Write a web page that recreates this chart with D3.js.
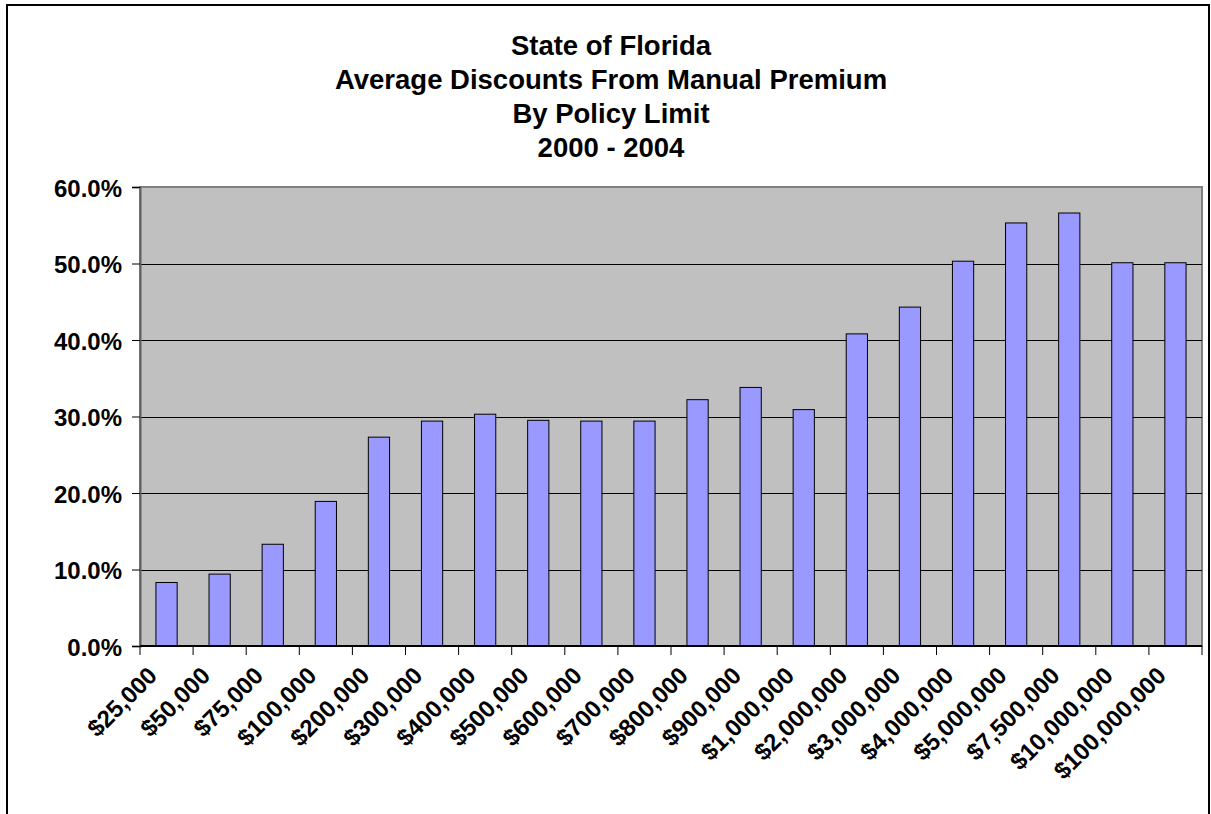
<!DOCTYPE html>
<html>
<head>
<meta charset="utf-8">
<script src="https://cdn.jsdelivr.net/npm/d3@7"></script>
<style>
  html, body { margin: 0; padding: 0; background: #fff; }
  svg { display: block; }
  text { font-family: "Liberation Sans", Arial, sans-serif; font-weight: bold; fill: #000; }
</style>
</head>
<body>
<svg id="chart" width="1211" height="814"></svg>
<script>
// Policy limits (categories) and average discount from manual premium (%)
const limits = ["$25,000", "$50,000", "$75,000", "$100,000", "$200,000", "$300,000",
  "$400,000", "$500,000", "$600,000", "$700,000", "$800,000", "$900,000",
  "$1,000,000", "$2,000,000", "$3,000,000", "$4,000,000", "$5,000,000",
  "$7,500,000", "$10,000,000", "$100,000,000"];
const discounts = [8.3, 9.4, 13.3, 18.9, 27.3, 29.4, 30.3, 29.5, 29.4, 29.4,
  32.2, 33.8, 30.9, 40.8, 44.3, 50.3, 55.3, 56.6, 50.1, 50.1];
const yTicks = [0, 10, 20, 30, 40, 50, 60];
const titleLines = ["State of Florida", "Average Discounts From Manual Premium",
  "By Policy Limit", "2000 - 2004"];

const svg = d3.select("#chart");
const plot = { left: 140, top: 187, right: 1202, bottom: 646 };

// Outer chart frame
svg.append("rect")
  .attr("x", 7).attr("y", 5).attr("width", 1202).attr("height", 830)
  .attr("fill", "#fff").attr("stroke", "#000").attr("stroke-width", 2);

// Title
svg.append("g").selectAll("text").data(titleLines).join("text")
  .attr("x", 611)
  .attr("y", (d, i) => 55 + i * 34)
  .attr("text-anchor", "middle")
  .attr("font-size", 27.5)
  .text(d => d);

const xBand = d3.scaleBand().domain(limits).range([plot.left, plot.right]);
const y = d3.scaleLinear().domain([0, 60]).range([plot.bottom, plot.top]);

// Plot background
svg.append("rect")
  .attr("x", plot.left).attr("y", plot.top)
  .attr("width", plot.right - plot.left).attr("height", plot.bottom - plot.top)
  .attr("fill", "#c0c0c0").attr("stroke", "#808080").attr("stroke-width", 2);

// Gridlines
svg.append("g").selectAll("line").data(yTicks.filter(t => t > 0 && t < 60)).join("line")
  .attr("x1", plot.left).attr("x2", plot.right)
  .attr("y1", d => Math.round(y(d)) + 0.5).attr("y2", d => Math.round(y(d)) + 0.5)
  .attr("stroke", "#000").attr("stroke-width", 1);

// Bars (40% of each category slot, centred)
svg.append("g").selectAll("rect").data(discounts).join("rect")
  .attr("x", (d, i) => xBand(limits[i]) + xBand.bandwidth() * 0.3)
  .attr("width", xBand.bandwidth() * 0.4)
  .attr("y", d => y(d))
  .attr("height", d => y(0) - y(d))
  .attr("fill", "#9999ff").attr("stroke", "#000").attr("stroke-width", 1);

// Y axis
const yAxis = svg.append("g")
  .attr("transform", `translate(${plot.left},0)`)
  .call(d3.axisLeft(y).tickValues(yTicks).tickSize(8).tickPadding(10)
    .tickFormat(d => d.toFixed(1) + "%"));
yAxis.select(".domain").attr("stroke", "#606060").attr("stroke-width", 2);
yAxis.selectAll(".tick line").attr("stroke", "#000");
yAxis.selectAll(".tick text").attr("font-size", 24).attr("font-family", null).attr("dy", "0.38em");

// X axis: ticks on category boundaries
const boundaries = d3.range(limits.length + 1).map(i => plot.left + i * xBand.step());
const xAxis = svg.append("g");
xAxis.append("line")
  .attr("x1", plot.left).attr("x2", plot.right)
  .attr("y1", plot.bottom).attr("y2", plot.bottom)
  .attr("stroke", "#000").attr("stroke-width", 2);
xAxis.selectAll("line.tk").data(boundaries).join("line").attr("class", "tk")
  .attr("x1", d => d).attr("x2", d => d)
  .attr("y1", plot.bottom).attr("y2", plot.bottom + 9)
  .attr("stroke", "#000").attr("stroke-width", 1);
xAxis.selectAll("text").data(limits).join("text")
  .attr("text-anchor", "end")
  .attr("font-size", 24)
  .attr("transform", d => `translate(${xBand(d) + xBand.bandwidth() / 2 - 8},${plot.bottom + 31}) rotate(-45)`)
  .text(d => d);
</script>
</body>
</html>
